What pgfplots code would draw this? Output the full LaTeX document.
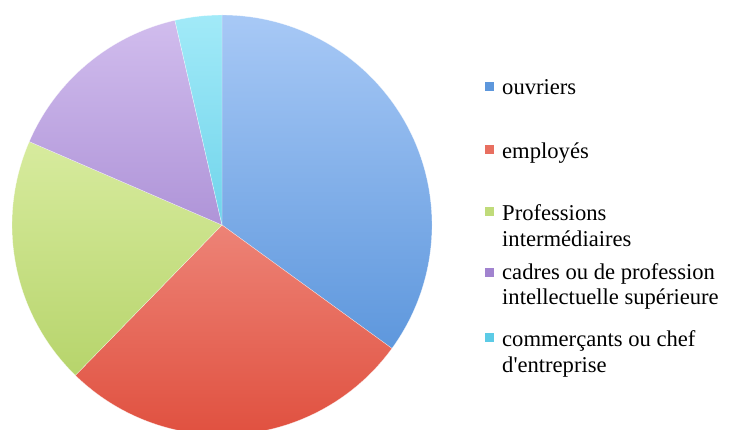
\documentclass[border=0pt]{standalone}
\usepackage{pgfplots}
\pgfplotsset{compat=1.18}
\usepackage{fontspec}
\setmainfont{Liberation Serif}

\definecolor{bluT}{HTML}{A8C9F6}\definecolor{bluB}{HTML}{4A8AD6}
\definecolor{redT}{HTML}{FAB6AE}\definecolor{redB}{HTML}{E0503F}
\definecolor{grnT}{HTML}{E9F8BA}\definecolor{grnB}{HTML}{AECE5E}
\definecolor{purT}{HTML}{D2BEEE}\definecolor{purB}{HTML}{8C6AC2}
\definecolor{cyaT}{HTML}{A2EAF8}\definecolor{cyaB}{HTML}{3EBEDE}

% data (percent shares)
\def\vA{35.0}% ouvriers
\def\vB{27.3}% employes
\def\vC{19.2}% professions intermediaires
\def\vD{14.9}% cadres
\def\vE{3.6}%  commercants
\pgfmathsetmacro\aA{90}
\pgfmathsetmacro\aB{\aA-3.6*\vA}
\pgfmathsetmacro\aC{\aB-3.6*\vB}
\pgfmathsetmacro\aD{\aC-3.6*\vC}
\pgfmathsetmacro\aE{\aD-3.6*\vD}
\pgfmathsetmacro\aF{\aE-3.6*\vE}

\newcommand{\slice}[4]{%
  \begin{scope}
    \clip (axis cs:222,205) -- ++(#1:210pt) arc[start angle=#1, end angle=#2, radius=210pt] -- cycle;
    \shade[top color=#3, bottom color=#4] (axis cs:10,-7) rectangle (axis cs:434,417);
  \end{scope}
  \draw[white, line width=0.4pt, opacity=0.6] (axis cs:222,205) -- ++(#1:210pt) arc[start angle=#1, end angle=#2, radius=210pt] -- cycle;
}

\begin{document}
\begin{tikzpicture}
\begin{axis}[
  width=729pt, height=430pt, scale only axis,
  xmin=0, xmax=729, ymin=0, ymax=430,
  hide axis, clip=true,
]
\slice{\aA}{\aB}{bluT}{bluB}
\slice{\aB}{\aC}{redT}{redB}
\slice{\aC}{\aD}{grnT}{grnB}
\slice{\aD}{\aE}{purT}{purB}
\slice{\aE}{\aF}{cyaT}{cyaB}

% legend
\fill[bluB!80!bluT] (axis cs:485,339) rectangle (axis cs:494,348);
\fill[redB!70!redT] (axis cs:485,276) rectangle (axis cs:494,285);
\fill[grnB!70!grnT] (axis cs:485,214) rectangle (axis cs:494,223);
\fill[purB!70!purT] (axis cs:485,153) rectangle (axis cs:494,162);
\fill[cyaB!70!cyaT] (axis cs:485,88) rectangle (axis cs:494,97);

\begin{scope}[every node/.style={anchor=base west, inner sep=0pt, font=\fontsize{22.6}{26}\selectfont}]
\node at (axis cs:502,335) {ouvriers};
\node at (axis cs:502,271) {employés};
\node at (axis cs:502,209) {Professions};
\node at (axis cs:502,183) {intermédiaires};
\node at (axis cs:502,150) {cadres ou de profession};
\node at (axis cs:502,125) {intellectuelle supérieure};
\node at (axis cs:502,83) {commerçants ou chef};
\node at (axis cs:502,57) {d\textquotesingle entreprise};
\end{scope}
\end{axis}
\pgfresetboundingbox
\useasboundingbox (0,0) rectangle (729pt,430pt);
\end{tikzpicture}
\end{document}
